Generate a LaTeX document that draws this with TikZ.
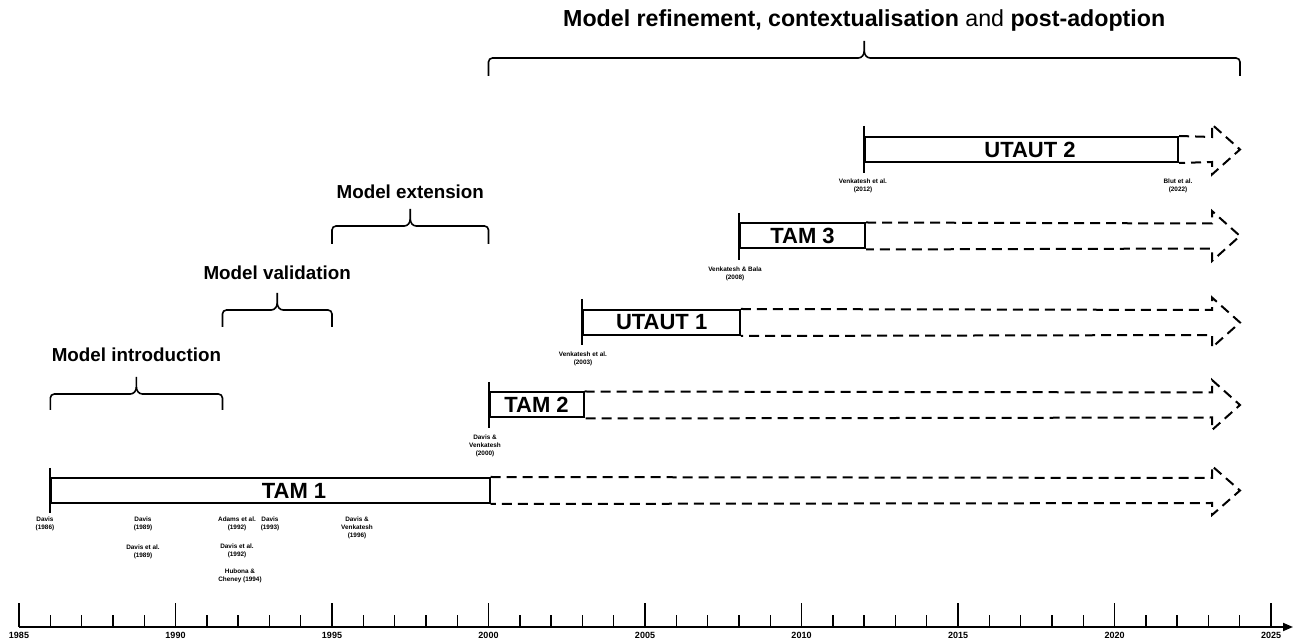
\documentclass[tikz,border=0pt]{standalone}
\usepackage{fontspec}
\setmainfont{Liberation Sans}
\usetikzlibrary{arrows.meta}
\newcommand\phasebrace[4]{% x1, x2, ybar, depth
  \pgfmathsetmacro\xm{(#1+#2)/2}
  \draw[bracestyle] (#1,#3+#4) -- (#1,#3+4) to[out=90,in=180] (#1+4,#3) -- (\xm-6,#3) to[out=0,in=-90] (\xm,#3-7) -- (\xm,#3-17);
  \draw[bracestyle] (#2,#3+#4) -- (#2,#3+4) to[out=90,in=0] (#2-4,#3) -- (\xm+6,#3) to[out=180,in=-90] (\xm,#3-7);
}
\begin{document}
\begin{tikzpicture}[x=0.5pt,y=-0.5pt,
  modelbox/.style={draw, line width=1pt, inner sep=0pt, anchor=west, minimum height=12.5pt,
    font=\fontsize{11}{12}\selectfont\bfseries},
  modellab/.style={inner sep=0pt, font=\fontsize{11}{12}\selectfont\bfseries},
  dashline/.style={draw, line width=1pt, dash pattern=on 5pt off 3pt},
  startline/.style={line width=1pt},
  bracestyle/.style={line width=0.8pt},
  ref/.style={align=center, inner sep=0pt, font=\fontsize{3.2}{4}\selectfont\bfseries},
  phase/.style={inner sep=0pt, font=\fontsize{9.4}{11}\selectfont\bfseries},
  yearlab/.style={inner sep=0pt, font=\fontsize{4.5}{5}\selectfont\bfseries}]
\useasboundingbox (0,0) rectangle (1296,640);

% ---------- axis ----------
\coordinate (axs) at (19,627);
\coordinate (axe) at (1293,627);
\draw[line width=0.9pt, -{Triangle[length=5pt,width=4pt]}] (axs) -- (axe);
\foreach \i in {0,...,40}{
  \pgfmathsetmacro\xx{19+\i*31.3}
  \pgfmathtruncatemacro\m{mod(\i,5)}
  \ifnum\m=0
    \draw[line width=0.7pt] (\xx,627) -- (\xx,603);
    \pgfmathtruncatemacro\yy{1985+\i}
    \node[yearlab] at (\xx,635) {\yy};
  \else
    \draw[line width=0.7pt] (\xx,627) -- (\xx,615);
  \fi
}

% ---------- TAM 1 ----------
\node[modelbox, minimum width=219.1pt] (tam1) at (50.3,490.5) {};
\node[modellab] (tam1lab) at (294,490.5) {TAM 1};
\draw[startline] (50.3,468) -- (50.3,513);
\draw[dashline] (tam1.north east) -- (1212,478) -- (1212,466) -- (1240,490.5) -- (1212,515) -- (1212,503) -- (tam1.south east);

% ---------- TAM 2 ----------
\node[modelbox, minimum width=47pt] (tam2) at (488.5,405) {TAM 2};
\draw[startline] (488.5,382) -- (488.5,428);
\draw[dashline] (tam2.north east) -- (1212,392.5) -- (1212,380) -- (1240,405) -- (1212,430) -- (1212,417.5) -- (tam2.south east);

% ---------- UTAUT 1 ----------
\node[modelbox, minimum width=78.25pt] (ut1) at (582.4,322.5) {UTAUT 1};
\draw[startline] (582.4,299) -- (582.4,345);
\draw[dashline] (ut1.north east) -- (1212,310) -- (1212,297.5) -- (1240,322.5) -- (1212,347.5) -- (1212,335) -- (ut1.south east);

% ---------- TAM 3 ----------
\node[modelbox, minimum width=62.6pt] (tam3) at (738.9,236) {TAM 3};
\draw[startline] (738.9,213) -- (738.9,260);
\draw[dashline] (tam3.north east) -- (1212,223.5) -- (1212,211) -- (1240,236) -- (1212,261) -- (1212,248.5) -- (tam3.south east);

% ---------- UTAUT 2 ----------
\node[modelbox, minimum width=156.5pt] (ut2) at (864.1,149.5) {};
\node[modellab] (ut2lab) at (1030,149.5) {UTAUT 2};
\draw[startline] (864.1,126) -- (864.1,173);
\draw[dashline] (ut2.north east) -- (1212,137) -- (1212,124.5) -- (1240,149.5) -- (1212,174.5) -- (1212,162) -- (ut2.south east);

% ---------- references ----------
\node[ref] (r1) at (45,524) {Davis\\(1986)};
\node[ref] (r2) at (143,524) {Davis\\(1989)};
\node[ref] (r3) at (143,552) {Davis et al.\\(1989)};
\node[ref] (r4) at (237,524) {Adams et al.\\(1992)};
\node[ref] (r5) at (270,524) {Davis\\(1993)};
\node[ref] (r6) at (237,551) {Davis et al.\\(1992)};
\node[ref] (r7) at (240,576) {Hubona \&\\Cheney (1994)};
\node[ref] (r8) at (357,528) {Davis \&\\Venkatesh\\(1996)};
\node[ref] (r9) at (485,446) {Davis \&\\Venkatesh\\(2000)};
\node[ref] (r10) at (583,359) {Venkatesh et al.\\(2003)};
\node[ref] (r11) at (735,274) {Venkatesh \& Bala\\(2008)};
\node[ref] (r12) at (863,186) {Venkatesh et al.\\(2012)};
\node[ref] (r13) at (1178,186) {Blut et al.\\(2022)};

% ---------- phases ----------
\phasebrace{50.3}{222.45}{394}{16}
\node[phase] (p1) at (136.4,355) {Model introduction};
\phasebrace{222.45}{332}{310}{17}
\node[phase] (p2) at (277.2,273) {Model validation};
\phasebrace{332}{488.5}{226}{18}
\node[phase] (p3) at (410.3,192) {Model extension};
\phasebrace{488.5}{1240}{58}{18}
\node[phase, font=\fontsize{11.6}{13}\selectfont\bfseries] (p4) at (864.2,21) {Model refinement, contextualisation {\mdseries and} post-adoption};
\end{tikzpicture}
\end{document}
